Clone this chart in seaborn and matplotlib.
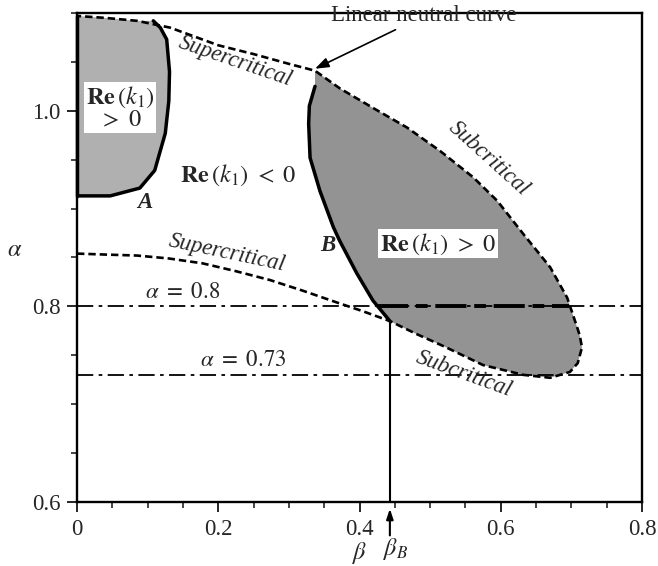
import numpy as np
import pandas as pd
import matplotlib
matplotlib.use("Agg")
import matplotlib.pyplot as plt
from matplotlib.ticker import MultipleLocator, FixedLocator, FixedFormatter
import seaborn as sns

sns.set_style("ticks")
plt.rcParams['font.family'] = 'serif'
plt.rcParams['font.serif'] = ['Liberation Serif', 'Times New Roman', 'DejaVu Serif']
plt.rcParams['mathtext.fontset'] = 'stix'

# ---------------- data ----------------
# linear neutral curve: lower branch (from beta=0) around the tongue and back on the upper branch
neutral_beta = [0.000, 0.040, 0.085, 0.130, 0.178, 0.225, 0.273, 0.320, 0.368, 0.405, 0.443,
                0.480, 0.520, 0.575, 0.632, 0.670, 0.698, 0.709, 0.715, 0.712, 0.708, 0.694,
                0.670, 0.632, 0.595, 0.561, 0.514, 0.467, 0.419, 0.372, 0.337, 0.300, 0.250,
                0.200, 0.132, 0.085, 0.040, 0.000]
neutral_alpha = [0.854, 0.853, 0.852, 0.849, 0.844, 0.836, 0.827, 0.816, 0.804, 0.795, 0.785,
                 0.772, 0.759, 0.740, 0.730, 0.727, 0.733, 0.742, 0.758, 0.770, 0.779, 0.809,
                 0.840, 0.874, 0.908, 0.932, 0.959, 0.983, 1.003, 1.023, 1.041, 1.048, 1.058,
                 1.067, 1.085, 1.092, 1.095, 1.097]

# boundary B (solid), from top to the junction with the neutral curve
curveB_beta = [0.337, 0.329, 0.328, 0.330, 0.344, 0.363, 0.372, 0.396, 0.419, 0.443]
curveB_alpha = [1.025, 1.005, 0.987, 0.952, 0.918, 0.881, 0.867, 0.834, 0.806, 0.785]

# boundary A (solid), from the alpha axis round to the neutral curve
curveA_beta = [0.000, 0.047, 0.089, 0.110, 0.125, 0.130, 0.131, 0.127, 0.118, 0.108]
curveA_alpha = [0.913, 0.913, 0.921, 0.939, 0.977, 1.010, 1.040, 1.073, 1.085, 1.092]

alpha_levels = [0.8, 0.73]
alpha_level_labels = [r"$\alpha\ =\ 0.8$", r"$\alpha\ =\ 0.73$"]
beta_B = 0.443
alpha_B = 0.785
bold_seg_beta = [0.425, 0.697]   # part of alpha=0.8 lying inside region B

xticks = [0, 0.2, 0.4, 0.6, 0.8]
xticklabels = ["0", "0.2", "0.4", "0.6", "0.8"]
yticks = [0.6, 0.8, 1.0]
yticklabels = ["0.6", "0.8", "1.0"]

neutral = pd.DataFrame({"beta": neutral_beta, "alpha": neutral_alpha})
curveB = pd.DataFrame({"beta": curveB_beta, "alpha": curveB_alpha})
curveA = pd.DataFrame({"beta": curveA_beta, "alpha": curveA_alpha})

# ---------------- figure ----------------
fig = plt.figure(figsize=(6.58, 5.66), dpi=100)
ax = fig.add_axes([77 / 658, 1 - 502 / 566, 565 / 658, 489 / 566])
ax.set_xlim(0, 0.8)
ax.set_ylim(0.6, 1.1)

# shaded regions
nb = np.array(neutral_beta)
na = np.array(neutral_alpha)
i0 = neutral_beta.index(beta_B)
i1 = neutral_beta.index(0.337, i0)
polyB_x = np.concatenate([curveB_beta, nb[i0:i1 + 1]])
polyB_y = np.concatenate([curveB_alpha, na[i0:i1 + 1]])
ax.fill(polyB_x, polyB_y, color="#939393", lw=0, zorder=1)

tail = nb < curveA_beta[-1]
tail[:len(nb) // 2] = False
polyA_x = np.concatenate([curveA_beta, nb[tail], [0.0]])
polyA_y = np.concatenate([curveA_alpha, na[tail], [curveA_alpha[0]]])
ax.fill(polyA_x, polyA_y, color="#b0b0b0", lw=0, zorder=1)

# neutral curve (dashed)
sns.lineplot(data=neutral, x="beta", y="alpha", sort=False, estimator=None, ax=ax,
             color="black", lw=1.9, dashes=False, zorder=3)
ax.lines[-1].set_dashes((2.8, 1.5))

# solid boundaries
sns.lineplot(data=curveB, x="beta", y="alpha", sort=False, estimator=None, ax=ax,
             color="black", lw=2.5, zorder=3)
sns.lineplot(data=curveA, x="beta", y="alpha", sort=False, estimator=None, ax=ax,
             color="black", lw=2.5, zorder=3)
ax.plot([0, 0], [curveA_alpha[0], 1.097], color="black", lw=2.5, zorder=3, clip_on=False)

# alpha = const lines
for a in alpha_levels:
    ax.axhline(a, color="black", lw=1.3, dashes=(9, 3, 2, 3), zorder=2)
ax.plot(bold_seg_beta, [alpha_levels[0]] * 2, color="black", lw=2.8, dashes=(8, 2, 3, 2), zorder=2)

# beta_B vertical line and arrow
ax.plot([beta_B, beta_B], [0.6, alpha_B], color="black", lw=1.5, zorder=3)
ax.annotate("", xy=(beta_B, 0.596), xytext=(beta_B, 0.563), annotation_clip=False,
            arrowprops=dict(arrowstyle="-|>,head_length=0.6,head_width=0.2", color="black", lw=1.5))

# ---------------- text ----------------
fs = 16.5
ax.text(0.224, 1.050, "Supercritical", style="italic", fontsize=fs, rotation=-19,
        ha="center", va="center")
ax.text(0.212, 0.855, "Supercritical", style="italic", fontsize=fs, rotation=-12,
        ha="center", va="center")
ax.text(0.583, 0.951, "Subcritical", style="italic", fontsize=fs, rotation=-42,
        ha="center", va="center")
ax.text(0.548, 0.731, "Subcritical", style="italic", fontsize=fs, rotation=-20,
        ha="center", va="center")
ax.annotate("Linear neutral curve", xy=(0.337, 1.043), xytext=(0.36, 1.097),
            fontsize=fs, ha="left", va="center",
            arrowprops=dict(arrowstyle="-|>,head_length=0.5,head_width=0.18", color="black",
                            lw=1.2, shrinkA=0, shrinkB=0), annotation_clip=False)
ax.text(0.150, 0.814, alpha_level_labels[0], fontsize=fs, ha="center", va="center")
ax.text(0.235, 0.745, alpha_level_labels[1], fontsize=fs, ha="center", va="center")

box = dict(facecolor="white", edgecolor="none", pad=1.2)
ax.text(0.061, 1.003, r"$\mathbf{Re}\,(k_1)$" + "\n" + r"$>\ 0$", fontsize=fs + 1,
        ha="center", va="center", linespacing=1.0, bbox=box, zorder=4)
ax.text(0.511, 0.864, r"$\mathbf{Re}\,(k_1)\ >\ 0$", fontsize=fs + 1,
        ha="center", va="center", bbox=box, zorder=4)
ax.text(0.228, 0.934, r"$\mathbf{Re}\,(k_1)\ <\ 0$", fontsize=fs + 1,
        ha="center", va="center", zorder=4)
ax.text(0.096, 0.906, "A", style="italic", weight="bold",
        fontsize=fs, ha="center", va="center")
ax.text(0.355, 0.862, "B", style="italic", weight="bold", fontsize=fs,
        ha="center", va="center")

# axes styling
ax.xaxis.set_major_locator(FixedLocator(xticks))
ax.xaxis.set_major_formatter(FixedFormatter(xticklabels))
ax.yaxis.set_major_locator(FixedLocator(yticks))
ax.yaxis.set_major_formatter(FixedFormatter(yticklabels))
ax.xaxis.set_minor_locator(MultipleLocator(0.05))
ax.yaxis.set_minor_locator(MultipleLocator(0.05))
ax.tick_params(which="major", direction="out", length=7, width=1.4, labelsize=fs, pad=5)
ax.tick_params(which="minor", direction="out", length=4, width=1.2)
ax.tick_params(top=False, right=False)
for s in ax.spines.values():
    s.set_linewidth(1.7)
    s.set_color("black")

ax.set_xlabel(r"$\beta$", fontsize=fs + 1, va="center")
ax.set_ylabel(r"$\alpha$", fontsize=fs + 1, rotation=0, va="center")
ax.xaxis.set_label_coords(0.501, -0.104)
ax.yaxis.set_label_coords(-0.11, 0.515)
ax.text(beta_B + 0.008, -0.097, r"$\beta_B$", fontsize=fs + 1, ha="center", va="center",
        transform=ax.get_xaxis_transform())

fig.savefig("out.png", dpi=100)
